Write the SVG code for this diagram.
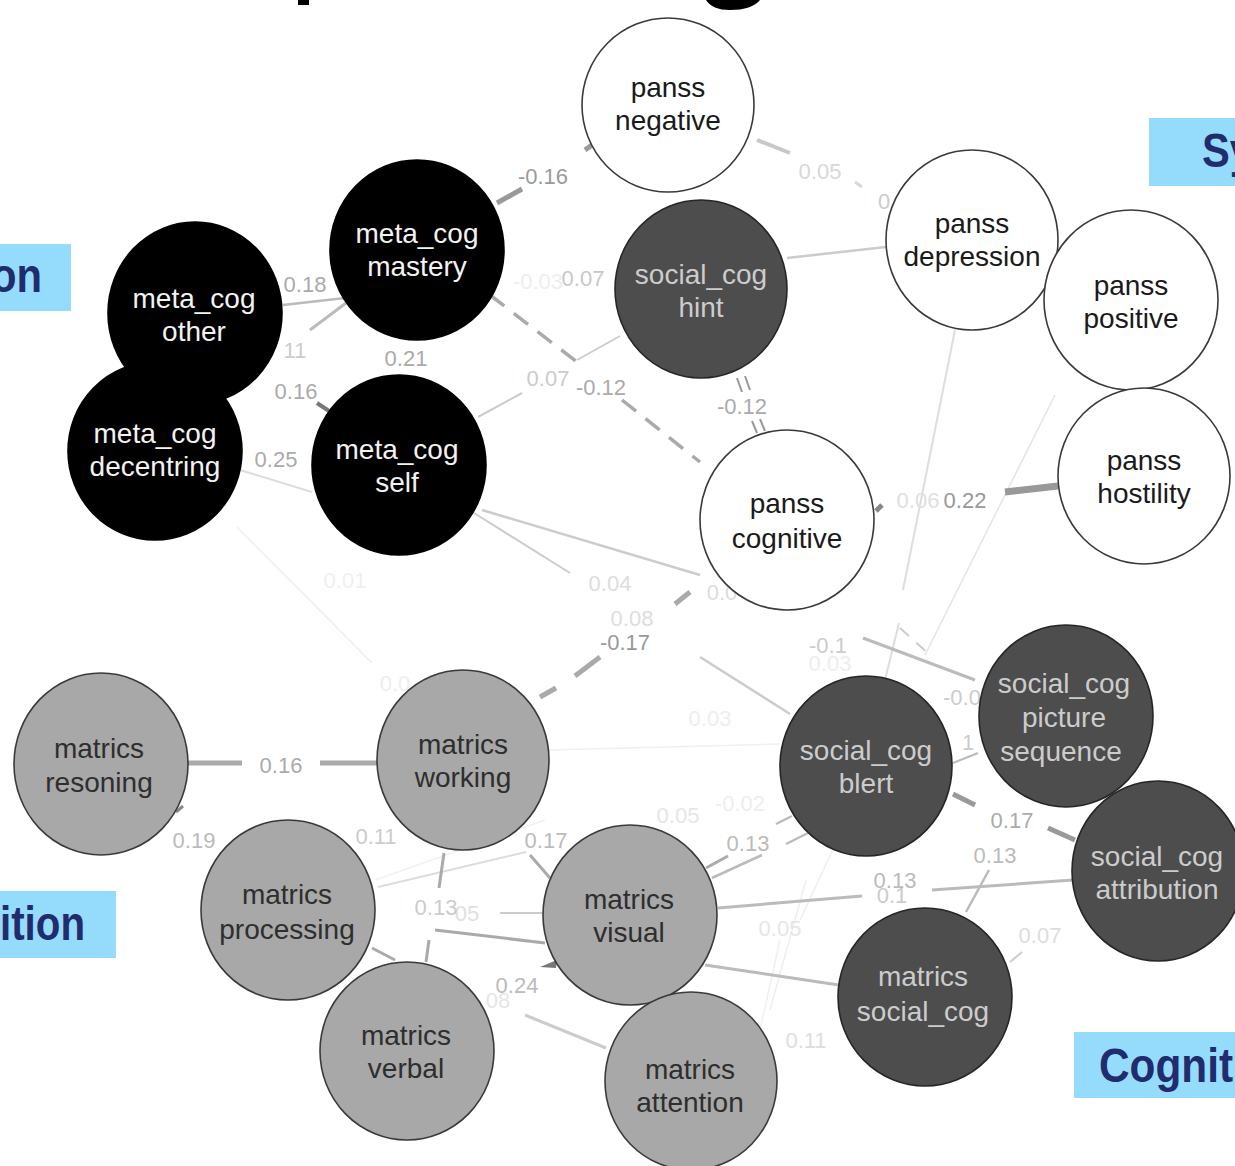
<svg xmlns="http://www.w3.org/2000/svg" width="1235" height="1166" viewBox="0 0 1235 1166">
<style>
.e{fill:none;stroke-linecap:butt}
.lbl{font-family:"Liberation Sans",Arial,sans-serif;font-size:22px;text-anchor:middle}
.nt{font-family:"Liberation Sans",Arial,sans-serif;font-size:28px;text-anchor:middle}
.nw{fill:#ffffff;stroke:#3a3a3a;stroke-width:1.6}
.nb{fill:#000000;stroke:#000000;stroke-width:1.6}
.nd{fill:#4d4d4d;stroke:#262626;stroke-width:1.6}
.ng{fill:#a8a8a8;stroke:#3a3a3a;stroke-width:1.6}
.tw{fill:#1a1a1a}
.tb{fill:#f2f2f2}
.td{fill:#cccccc}
.tg{fill:#2e2e2e}
.box{fill:#95dcfc}
.bt{font-family:"Liberation Sans",Arial,sans-serif;font-size:48px;font-weight:bold;fill:#202c6d}
</style>
<rect width="1235" height="1166" fill="#ffffff"/>

<g id="title-fragments" fill="#000">
<rect x="298" y="0" width="11" height="5"/>
<path d="M706,0 Q712,10 730,10 Q752,10 760,0 Z"/>
</g>

<g id="group-labels">
<rect class="box" x="0" y="244" width="71" height="67"/>
<text class="bt" x="-9" y="292" textLength="51" lengthAdjust="spacingAndGlyphs">on</text>
<rect class="box" x="1149" y="118" width="86" height="68"/>
<text class="bt" x="1202" y="167" textLength="51" lengthAdjust="spacingAndGlyphs">Sy</text>
<rect class="box" x="0" y="891" width="116" height="67"/>
<text class="bt" x="0" y="940" textLength="85" lengthAdjust="spacingAndGlyphs">ition</text>
<rect class="box" x="1074" y="1032" width="161" height="66"/>
<text class="bt" x="1099" y="1082" textLength="134" lengthAdjust="spacingAndGlyphs">Cognit</text>
</g>

<g id="connectors">
<!-- faint background edges -->
<line class="e" x1="237" y1="527" x2="372" y2="663" stroke="#eeeeee" stroke-width="1.5"/>
<line class="e" x1="1055" y1="395" x2="925" y2="655" stroke="#e4e4e4" stroke-width="1.5"/>
<line class="e" x1="549" y1="750" x2="780" y2="744" stroke="#f0f0f0" stroke-width="1.5"/>
<line class="e" x1="806" y1="880" x2="770" y2="1010" stroke="#eeeeee" stroke-width="1.5"/>
<line class="e" x1="780" y1="940" x2="760" y2="1030" stroke="#f0f0f0" stroke-width="1.5"/>
<line class="e" x1="835" y1="845" x2="800" y2="920" stroke="#eeeeee" stroke-width="1.5"/>
<line class="e" x1="375" y1="880" x2="545" y2="820" stroke="#f2f2f2" stroke-width="1.5"/>
<!-- mastery - negative -->
<line class="e" x1="497" y1="203" x2="522" y2="189" stroke="#9a9a9a" stroke-width="5"/>
<line class="e" x1="585" y1="150" x2="596" y2="142" stroke="#9a9a9a" stroke-width="5"/>
<!-- negative - depression -->
<line class="e" x1="757" y1="140" x2="790" y2="153" stroke="#c8c8c8" stroke-width="4"/>
<line class="e" x1="855" y1="182" x2="862" y2="187" stroke="#d8d8d8" stroke-width="3"/>
<!-- hint - depression -->
<line class="e" x1="787" y1="258" x2="886" y2="247" stroke="#cccccc" stroke-width="2.5"/>
<!-- other - mastery -->
<line class="e" x1="283" y1="305" x2="345" y2="298" stroke="#bbbbbb" stroke-width="2.5"/>
<!-- decentring - mastery -->
<line class="e" x1="310" y1="330" x2="346" y2="303" stroke="#bbbbbb" stroke-width="3"/>
<!-- other - self -->
<line class="e" x1="317" y1="403" x2="329" y2="411" stroke="#777777" stroke-width="4"/>
<!-- mastery - cognitive (dashed) -->
<line class="e" x1="490" y1="295" x2="577" y2="362" stroke="#aaaaaa" stroke-width="3.5" stroke-dasharray="18 12"/>
<line class="e" x1="622" y1="400" x2="700" y2="462" stroke="#aaaaaa" stroke-width="3.5" stroke-dasharray="18 12"/>
<!-- hint - self -->
<line class="e" x1="620" y1="336" x2="577" y2="360" stroke="#cccccc" stroke-width="2"/>
<line class="e" x1="522" y1="393" x2="478" y2="417" stroke="#cccccc" stroke-width="2"/>
<!-- hint - cognitive -->
<line class="e" x1="737" y1="378" x2="742" y2="392" stroke="#999999" stroke-width="2"/>
<line class="e" x1="745" y1="376" x2="750" y2="390" stroke="#999999" stroke-width="2"/>
<line class="e" x1="752" y1="421" x2="757" y2="433" stroke="#999999" stroke-width="2"/>
<line class="e" x1="760" y1="419" x2="765" y2="431" stroke="#999999" stroke-width="2"/>
<!-- cognitive - hostility -->
<line class="e" x1="1005" y1="492" x2="1058" y2="486" stroke="#999999" stroke-width="7"/>
<line class="e" x1="876" y1="511" x2="882" y2="505" stroke="#888888" stroke-width="5"/>
<!-- depression - blert -->
<line class="e" x1="955" y1="330" x2="903" y2="590" stroke="#dddddd" stroke-width="2"/>
<line class="e" x1="899" y1="623" x2="885" y2="680" stroke="#dddddd" stroke-width="2"/>
<!-- self - cognitive -->
<line class="e" x1="482" y1="510" x2="700" y2="575" stroke="#cccccc" stroke-width="2.5"/>
<line class="e" x1="474" y1="513" x2="570" y2="573" stroke="#cccccc" stroke-width="2"/>
<line class="e" x1="240" y1="470" x2="312" y2="492" stroke="#dddddd" stroke-width="2"/>
<!-- working - cognitive (dashed) -->
<line class="e" x1="540" y1="697" x2="556" y2="688" stroke="#aaaaaa" stroke-width="5"/>
<line class="e" x1="575" y1="676" x2="600" y2="657" stroke="#aaaaaa" stroke-width="5"/>
<line class="e" x1="675" y1="604" x2="690" y2="592" stroke="#aaaaaa" stroke-width="5"/>
<!-- to blert -->
<line class="e" x1="700" y1="657" x2="790" y2="714" stroke="#cccccc" stroke-width="2.5"/>
<!-- cognitive - picture -->
<line class="e" x1="863" y1="638" x2="975" y2="680" stroke="#bbbbbb" stroke-width="3"/>
<line class="e" x1="900" y1="628" x2="932" y2="657" stroke="#cccccc" stroke-width="2" stroke-dasharray="12 10"/>
<!-- blert - picture -->
<line class="e" x1="953" y1="763" x2="978" y2="753" stroke="#bbbbbb" stroke-width="2"/>
<!-- blert - attribution -->
<line class="e" x1="953" y1="794" x2="975" y2="805" stroke="#999999" stroke-width="5"/>
<line class="e" x1="1048" y1="828" x2="1075" y2="840" stroke="#999999" stroke-width="5"/>
<!-- matrics social_cog - picture -->
<line class="e" x1="989" y1="870" x2="966" y2="912" stroke="#bbbbbb" stroke-width="2.5"/>
<!-- visual - attribution -->
<line class="e" x1="718" y1="908" x2="862" y2="896" stroke="#bbbbbb" stroke-width="3"/>
<line class="e" x1="932" y1="890" x2="1073" y2="880" stroke="#bbbbbb" stroke-width="3"/>
<!-- visual - blert -->
<line class="e" x1="706" y1="868" x2="728" y2="856" stroke="#aaaaaa" stroke-width="3"/>
<line class="e" x1="712" y1="878" x2="762" y2="855" stroke="#bbbbbb" stroke-width="2.5"/>
<line class="e" x1="776" y1="824" x2="792" y2="816" stroke="#bbbbbb" stroke-width="2.5"/>
<line class="e" x1="786" y1="844" x2="810" y2="832" stroke="#bbbbbb" stroke-width="2.5"/>
<!-- visual - matrics social_cog -->
<line class="e" x1="705" y1="965" x2="839" y2="985" stroke="#bbbbbb" stroke-width="3"/>
<!-- resoning - working -->
<line class="e" x1="188" y1="763" x2="242" y2="763" stroke="#aaaaaa" stroke-width="5"/>
<line class="e" x1="320" y1="763" x2="378" y2="763" stroke="#aaaaaa" stroke-width="5"/>
<!-- processing - visual (0.17) -->
<line class="e" x1="378" y1="887" x2="526" y2="852" stroke="#dddddd" stroke-width="2"/>
<!-- working - verbal -->
<line class="e" x1="444" y1="853" x2="439" y2="888" stroke="#aaaaaa" stroke-width="3"/>
<line class="e" x1="429" y1="940" x2="426" y2="962" stroke="#aaaaaa" stroke-width="3"/>
<!-- processing - visual -->
<line class="e" x1="500" y1="913" x2="544" y2="913" stroke="#cccccc" stroke-width="2"/>
<line class="e" x1="435" y1="930" x2="545" y2="943" stroke="#aaaaaa" stroke-width="3"/>
<!-- processing - verbal -->
<line class="e" x1="372" y1="948" x2="395" y2="960" stroke="#aaaaaa" stroke-width="3"/>
<!-- working - visual -->
<line class="e" x1="530" y1="855" x2="550" y2="878" stroke="#aaaaaa" stroke-width="3"/>
<polygon points="540,967 557,960 556,968" fill="#777777"/>
<!-- verbal - attention -->
<line class="e" x1="525" y1="1015" x2="606" y2="1048" stroke="#cccccc" stroke-width="3"/>
<!-- attribution - matrics social_cog -->
<line class="e" x1="1010" y1="962" x2="1022" y2="952" stroke="#cccccc" stroke-width="2"/>
<line class="e" x1="176" y1="812" x2="183" y2="806" stroke="#888888" stroke-width="3"/>
</g>

<g id="edge-labels" class="lbl">
<text x="543" y="184" fill="#9a9a9a">-0.16</text>
<text x="820" y="179" fill="#d8d8d8">0.05</text>
<text x="884" y="209" fill="#cccccc">0</text>
<text x="538" y="289" fill="#eeeeee">-0.03</text>
<text x="583" y="286" fill="#c8c8c8">0.07</text>
<text x="305" y="292" fill="#aaaaaa">0.18</text>
<text x="295" y="358" fill="#cccccc">11</text>
<text x="406" y="366" fill="#aaaaaa">0.21</text>
<text x="296" y="399" fill="#aaaaaa">0.16</text>
<text x="276" y="467" fill="#aaaaaa">0.25</text>
<text x="548" y="386" fill="#cccccc">0.07</text>
<text x="601" y="395" fill="#aaaaaa">-0.12</text>
<text x="742" y="414" fill="#aaaaaa">-0.12</text>
<text x="918" y="508" fill="#e0e0e0">0.06</text>
<text x="965" y="508" fill="#999999">0.22</text>
<text x="345" y="588" fill="#f0f0f0">0.01</text>
<text x="610" y="591" fill="#dddddd">0.04</text>
<text x="722" y="600" fill="#dddddd">0.0</text>
<text x="632" y="626" fill="#dddddd">0.08</text>
<text x="625" y="650" fill="#999999">-0.17</text>
<text x="828" y="653" fill="#cccccc">-0.1</text>
<text x="830" y="671" fill="#eeeeee">0.03</text>
<text x="395" y="691" fill="#eeeeee">0.0</text>
<text x="710" y="726" fill="#eeeeee">0.03</text>
<text x="962" y="705" fill="#cccccc">-0.0</text>
<text x="968" y="750" fill="#cccccc">1</text>
<text x="678" y="823" fill="#e6e6e6">0.05</text>
<text x="740" y="811" fill="#eeeeee">-0.02</text>
<text x="748" y="851" fill="#bbbbbb">0.13</text>
<text x="1012" y="828" fill="#aaaaaa">0.17</text>
<text x="995" y="863" fill="#bbbbbb">0.13</text>
<text x="892" y="903" fill="#cccccc">0.1</text>
<text x="895" y="888" fill="#bbbbbb">0.13</text>
<text x="780" y="936" fill="#e6e6e6">0.05</text>
<text x="1040" y="943" fill="#dddddd">0.07</text>
<text x="806" y="1048" fill="#dddddd">0.11</text>
<text x="281" y="773" fill="#aaaaaa">0.16</text>
<text x="194" y="848" fill="#bbbbbb">0.19</text>
<text x="376" y="844" fill="#cccccc">0.11</text>
<text x="546" y="848" fill="#bbbbbb">0.17</text>
<text x="467" y="921" fill="#e0e0e0">05</text>
<text x="436" y="915" fill="#cccccc">0.13</text>
<text x="498" y="1008" fill="#e6e6e6">08</text>
<text x="517" y="993" fill="#bbbbbb">0.24</text>
</g>

<g id="panss-negative"><ellipse class="nw" cx="668" cy="105" rx="86" ry="87"/><text class="nt tw" x="668" y="97">panss</text><text class="nt tw" x="668" y="130">negative</text></g>
<g id="panss-depression"><ellipse class="nw" cx="972" cy="240" rx="86" ry="90"/><text class="nt tw" x="972" y="233">panss</text><text class="nt tw" x="972" y="266">depression</text></g>
<g id="panss-positive"><ellipse class="nw" cx="1131" cy="300" rx="87" ry="90"/><text class="nt tw" x="1131" y="295">panss</text><text class="nt tw" x="1131" y="328">positive</text></g>
<g id="panss-hostility"><ellipse class="nw" cx="1144" cy="476" rx="86" ry="88"/><text class="nt tw" x="1144" y="470">panss</text><text class="nt tw" x="1144" y="503">hostility</text></g>
<g id="panss-cognitive"><ellipse class="nw" cx="787" cy="520" rx="87" ry="90"/><text class="nt tw" x="787" y="513">panss</text><text class="nt tw" x="787" y="548">cognitive</text></g>
<g id="social-cog-hint"><ellipse class="nd" cx="701" cy="289" rx="86" ry="89"/><text class="nt td" x="701" y="284">social_cog</text><text class="nt td" x="701" y="317">hint</text></g>
<g id="meta-cog-mastery"><ellipse class="nb" cx="417" cy="250" rx="87" ry="90"/><text class="nt tb" x="417" y="243">meta_cog</text><text class="nt tb" x="417" y="276">mastery</text></g>
<g id="meta-cog-other"><ellipse class="nb" cx="195" cy="313" rx="87" ry="91"/><text class="nt tb" x="194" y="308">meta_cog</text><text class="nt tb" x="194" y="341">other</text></g>
<g id="meta-cog-decentring"><ellipse class="nb" cx="155" cy="451" rx="87" ry="89"/><text class="nt tb" x="155" y="443">meta_cog</text><text class="nt tb" x="155" y="476">decentring</text></g>
<g id="meta-cog-self"><ellipse class="nb" cx="399" cy="465" rx="87" ry="90"/><text class="nt tb" x="397" y="459">meta_cog</text><text class="nt tb" x="397" y="492">self</text></g>
<g id="matrics-resoning"><ellipse class="ng" cx="101" cy="764" rx="87" ry="91"/><text class="nt tg" x="99" y="758">matrics</text><text class="nt tg" x="99" y="792">resoning</text></g>
<g id="matrics-working"><ellipse class="ng" cx="463" cy="760" rx="86" ry="90"/><text class="nt tg" x="463" y="754">matrics</text><text class="nt tg" x="463" y="787">working</text></g>
<g id="matrics-processing"><ellipse class="ng" cx="288" cy="910" rx="87" ry="90"/><text class="nt tg" x="287" y="904">matrics</text><text class="nt tg" x="287" y="939">processing</text></g>
<g id="matrics-verbal"><ellipse class="ng" cx="407" cy="1051" rx="87" ry="89"/><text class="nt tg" x="406" y="1045">matrics</text><text class="nt tg" x="406" y="1078">verbal</text></g>
<g id="matrics-visual"><ellipse class="ng" cx="630" cy="915" rx="87" ry="90"/><text class="nt tg" x="629" y="909">matrics</text><text class="nt tg" x="629" y="942">visual</text></g>
<g id="matrics-attention"><ellipse class="ng" cx="691" cy="1081" rx="86" ry="89"/><text class="nt tg" x="690" y="1079">matrics</text><text class="nt tg" x="690" y="1112">attention</text></g>
<g id="social-cog-blert"><ellipse class="nd" cx="866" cy="766" rx="86" ry="90"/><text class="nt td" x="866" y="760">social_cog</text><text class="nt td" x="866" y="793">blert</text></g>
<g id="social-cog-picture-sequence"><ellipse class="nd" cx="1066" cy="716" rx="87" ry="91"/><text class="nt td" x="1064" y="693">social_cog</text><text class="nt td" x="1064" y="727">picture</text><text class="nt td" x="1061" y="761">sequence</text></g>
<g id="social-cog-attribution"><ellipse class="nd" cx="1158" cy="871" rx="86" ry="90"/><text class="nt td" x="1157" y="866">social_cog</text><text class="nt td" x="1157" y="899">attribution</text></g>
<g id="matrics-social-cog"><ellipse class="nd" cx="925" cy="997" rx="87" ry="89"/><text class="nt td" x="923" y="986">matrics</text><text class="nt td" x="923" y="1021">social_cog</text></g>
</svg>
